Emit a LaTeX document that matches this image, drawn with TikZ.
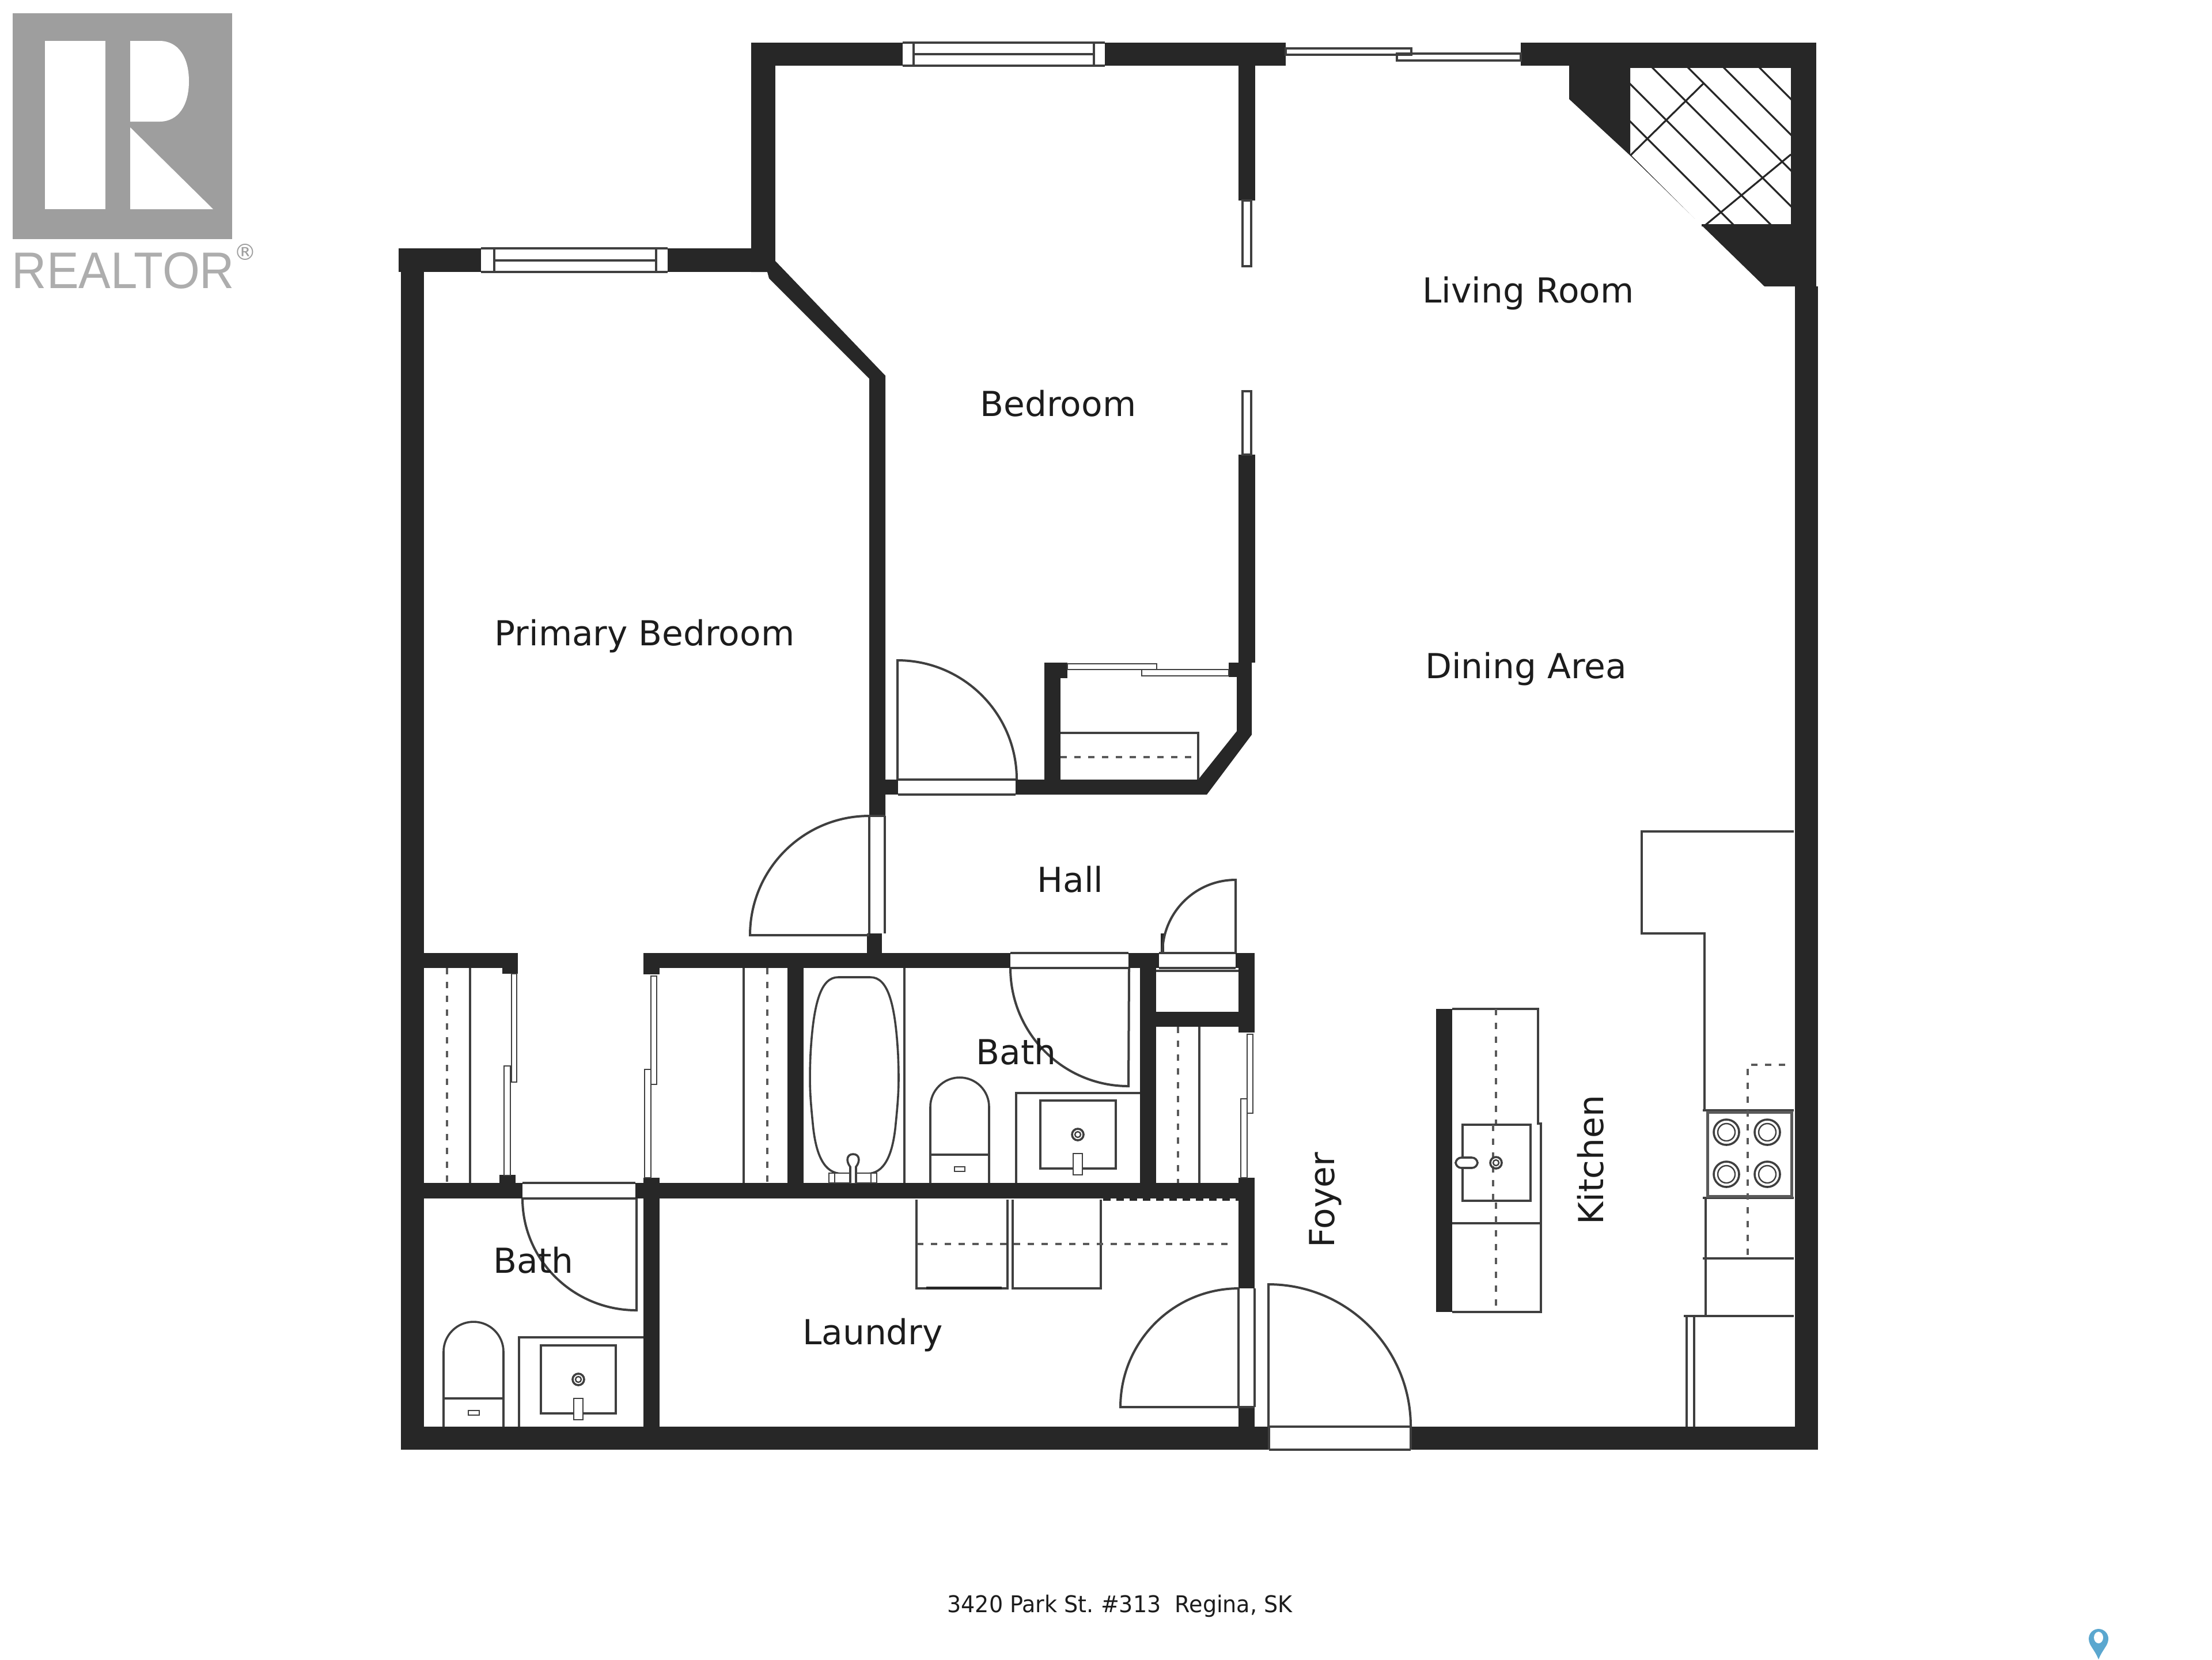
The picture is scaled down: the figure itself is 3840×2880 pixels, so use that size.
\documentclass[tikz,border=0pt]{standalone}
\usepackage{fontspec}
\setmainfont{DejaVu Sans}
\newfontfamily\logofont{Liberation Sans}
\definecolor{wallc}{HTML}{272727}
\definecolor{linec}{HTML}{3F3F3F}
\definecolor{dashc}{HTML}{5A5A5A}
\definecolor{logoc}{HTML}{9E9E9E}
\definecolor{pinc}{HTML}{5BA7CF}
\definecolor{textc}{HTML}{1C1C1C}
\tikzset{
  wall/.style={fill=wallc,draw=none},
  fine/.style={draw=linec,line width=0.36mm},
  hair/.style={draw=linec,line width=0.24mm},
  swing/.style={draw=linec,line width=0.4mm},
  dashline/.style={draw=dashc,line width=0.38mm,dash pattern=on 1.1mm off 1.3mm},
  hatch/.style={draw=wallc,line width=0.32mm},
  roomlabel/.style={inner sep=0pt,text=textc,font=\fontsize{17}{20}\selectfont},
}
\begin{document}
\begin{tikzpicture}[x=0.01cm,y=-0.01cm]
\useasboundingbox[fill=white] (0,0) rectangle (3840,2880);

% ---------- logo
\fill[logoc] (22,23) rectangle (403,415);
\fill[white] (78,71) rectangle (183,363);
\fill[white] (226,71) -- (277,71) .. controls (310,71) and (328,100) .. (328,141) .. controls (328,182) and (310,211) .. (277,211) -- (226,211) -- cycle;
\fill[white] (226,221) -- (370,363) -- (226,363) -- cycle;
\node[name=realtor,inner sep=0pt,text=logoc!85,xscale=0.934,font=\logofont\fontsize{25.4}{28}\selectfont] at (214,470) {REALTOR};
\node[name=regmark,inner sep=0pt,text=logoc,font=\fontsize{11}{13}\selectfont] at (426,437) {®};

% ---------- outer and main walls
\fill[wall] (692,431) rectangle (835,472);
\fill[wall] (1159,431) rectangle (1304,472);
\fill[wall] (696,472) rectangle (736,2516);
\fill[wall] (1304,74) rectangle (1346,472);
\fill[wall] (1304,74) rectangle (1567,114);
\fill[wall] (1918,74) rectangle (2232,114);
\fill[wall] (2640,74) rectangle (3153,114);
\fill[wall] (3109,114) rectangle (3153,497);
\fill[wall] (3116,497) rectangle (3156,2516);
\fill[wall] (2724,114) -- (2830,114) -- (2830,270) -- (2724,172) -- cycle;
\fill[wall] (2954,391) -- (3109,391) -- (3116,497) -- (3063,497) -- cycle;
\fill[wall] (696,2476) rectangle (2203,2516);
\fill[wall] (2449,2476) rectangle (3156,2516);
% chamfered bedroom wall
\fill[wall] (1346,453) -- (1537,652) -- (1537,1416) -- (1509,1416) -- (1509,657) -- (1335,483) -- (1332,472) -- (1304,472) -- (1304,450) -- cycle;
% bedroom / closet
\fill[wall] (1509,1353) rectangle (1559,1379);
\fill[wall] (1763,1353) -- (2080,1353) -- (2147,1269) -- (2147,1150) -- (2173,1150) -- (2173,1275) -- (2095,1379) -- (1763,1379) -- cycle;
\fill[wall] (1813,1150) rectangle (1841,1353);
\fill[wall] (1813,1150) rectangle (1853,1177);
\fill[wall] (2133,1150) rectangle (2150,1175);
\fill[wall] (2150,114) rectangle (2179,348);
\fill[wall] (2150,789) rectangle (2179,1150);
% hall walls
\fill[wall] (1505,1620) rectangle (1531,1655);
\fill[wall] (1117,1654) rectangle (1754,1680);
\fill[wall] (1959,1654) rectangle (2012,1680);
\fill[wall] (2145,1654) rectangle (2178,1680);
\fill[wall] (2015,1620) rectangle (2021,1654);
\fill[wall] (736,1654) rectangle (899,1680);
\fill[wall] (872,1680) rectangle (899,1690);
\fill[wall] (1117,1680) rectangle (1145,1691);
\fill[wall] (1367,1680) rectangle (1395,2053);
\fill[wall] (1979,1680) rectangle (2007,2053);
\fill[wall] (2150,1680) rectangle (2178,1792);
\fill[wall] (2007,1756) rectangle (2178,1782);
% lower wall
\fill[wall] (736,2053) rectangle (907,2080);
\fill[wall] (1103,2053) rectangle (2178,2080);
\fill[wall] (867,2039) rectangle (895,2053);
\fill[wall] (1117,2044) rectangle (1145,2053);
\fill[wall] (1117,2080) rectangle (1145,2476);
\fill[wall] (2150,2044) rectangle (2178,2236);
\fill[wall] (2150,2442) rectangle (2178,2476);

% ---------- windows and sliders
\draw[fine] (835,431) -- (1159,431) (835,472) -- (1159,472) (858,431) -- (858,472) (1139,431) -- (1139,472) (858,452) -- (1139,452);
\draw[fine] (1567,74) -- (1918,74) (1567,114) -- (1918,114) (1586,74) -- (1586,114) (1899,74) -- (1899,114) (1586,94) -- (1899,94);
\draw[fine] (2232,84) rectangle (2450,95);
\draw[fine] (2425,93) rectangle (2640,105);
\draw[fine] (2157,348) rectangle (2172,462);
\draw[fine] (2157,679) rectangle (2172,789);
\draw[hair] (1853,1152) rectangle (2008,1162);
\draw[hair] (1982,1162) rectangle (2133,1173);
\draw[hair] (888,1690) rectangle (897,1878);
\draw[hair] (875,1850) rectangle (886,2040);
\draw[hair] (1130,1694) rectangle (1140,1882);
\draw[hair] (1119,1856) rectangle (1130,2044);
\draw[hair] (2165,1795) rectangle (2175,1932);
\draw[hair] (2154,1907) rectangle (2165,2044);

% ---------- fireplace hatch
\begin{scope}
\clip (2830,116) -- (3109,116) -- (3109,391) -- (2954,391) -- (2830,270) -- cycle;
\foreach \c in {2560,2619,2684,2751,2813,2875,2937}
  \draw[hatch] (\c,0) -- (\c+600,600);
\draw[hatch] (2958,144) -- (2830,270);
\draw[hatch] (3109,268) -- (2960,391);
\end{scope}
\draw[hatch] (2830,116) -- (3109,116) (2954,391) -- (3109,391);

% ---------- door openings and leaves
\draw[fine] (1559,1353) -- (1763,1353) (1559,1379) -- (1763,1379);
\draw[swing] (1558,1353) -- (1558,1146) arc[start angle=-90,end angle=0,radius=207];
\draw[fine] (1509,1416) -- (1509,1620) (1536,1416) -- (1536,1620) (1509,1416) -- (1536,1416);
\draw[swing] (1509,1623) -- (1302,1623) arc[start angle=180,end angle=270,radius=207];
\draw[fine] (1754,1654) -- (1959,1654) (1754,1680) -- (1959,1680);
\draw[swing] (1754,1680) arc[start angle=180,end angle=90,radius=205] -- (1960,1680);
\draw[fine] (2012,1654) -- (2145,1654) (2012,1680) -- (2145,1680) (2007,1685) -- (2150,1685);
\draw[swing] (2145,1654) -- (2145,1527) arc[start angle=-90,end angle=-180,radius=127];
\draw[fine] (907,2053) -- (1103,2053) (907,2080) -- (1103,2080);
\draw[swing] (907,2080) arc[start angle=180,end angle=90,x radius=198,y radius=194] -- (1105,2080);
\draw[fine] (2150,2236) -- (2150,2442) (2178,2236) -- (2178,2442);
\draw[swing] (2178,2442) -- (1945,2442) arc[start angle=180,end angle=270,radius=206];
\draw[fine] (2203,2476) -- (2449,2476) (2203,2516) -- (2449,2516) (2203,2476) -- (2203,2516) (2449,2476) -- (2449,2516);
\draw[swing] (2202,2476) -- (2202,2229) arc[start angle=-90,end angle=0,radius=247];

% ---------- closets
\draw[fine] (816,1680) -- (816,2053);
\draw[dashline] (776,1680) -- (776,2053);
\draw[fine] (1291,1680) -- (1291,2053);
\draw[dashline] (1332,1680) -- (1332,2053);
\draw[fine] (2082,1782) -- (2082,2053);
\draw[dashline] (2045,1782) -- (2045,2053);
\draw[fine] (1841,1272) -- (2080,1272) -- (2080,1353);
\draw[dashline] (1841,1314) -- (2080,1314);

% ---------- bath 1
\draw[fine] (1570,1680) -- (1570,2053);
\draw[fine] (1455,1696) -- (1511,1696) .. controls (1541,1696) and (1554,1740) .. (1559,1830) .. controls (1561,1880) and (1560,1900) .. (1555,1950) .. controls (1550,2005) and (1535,2037) .. (1505,2037) -- (1462,2037) .. controls (1431,2037) and (1416,2005) .. (1411,1950) .. controls (1406,1900) and (1405,1880) .. (1407,1830) .. controls (1412,1740) and (1425,1696) .. (1455,1696) -- cycle;
\draw[hair,fill=white] (1439,2036) rectangle (1522,2053);
\draw[hair] (1449,2036) -- (1449,2053) (1512,2036) -- (1512,2053);
\draw[fine,fill=white] (1476,2053) -- (1476,2025) .. controls (1468,2015) and (1470,2003) .. (1481,2003) .. controls (1492,2003) and (1494,2015) .. (1486,2025) -- (1486,2053);
\draw[fine] (1615,2053) -- (1615,1921) arc[start angle=180,end angle=360,radius=51] -- (1717,2053);
\draw[fine] (1615,2004) -- (1717,2004);
\draw[hair] (1657,2025) rectangle (1675,2033);
\draw[fine] (1764,2053) -- (1764,1897) -- (1979,1897);
\draw[fine] (1806,1910) rectangle (1937,2028);
\draw[fine] (1871,1969) circle[radius=10];
\draw[hair] (1871,1969) circle[radius=5];
\draw[hair,fill=white] (1863,2002) rectangle (1879,2039);

% ---------- bath 2
\draw[fine] (770,2476) -- (770,2346) arc[start angle=180,end angle=360,radius=52] -- (874,2476);
\draw[fine] (770,2427) -- (874,2427);
\draw[hair] (813,2448) rectangle (832,2456);
\draw[fine] (901,2476) -- (901,2321) -- (1117,2321);
\draw[fine] (939,2335) rectangle (1069,2453);
\draw[fine] (1004,2394) circle[radius=10];
\draw[hair] (1004,2394) circle[radius=5];
\draw[hair,fill=white] (996,2427) rectangle (1012,2464);

% ---------- laundry
\draw[fine] (1591,2082) -- (1591,2236) -- (1749,2236) -- (1749,2082);
\draw[fine] (1758,2082) -- (1758,2236) -- (1911,2236) -- (1911,2082);
\draw[draw=wallc,line width=0.5mm] (1608,2235) -- (1739,2235);
\draw[dashline] (1592,2159) -- (2144,2159);
\draw[draw=wallc,line width=0.4mm,dash pattern=on 1.3mm off 1mm] (1915,2082) -- (2150,2082);

% ---------- kitchen
\draw[fine] (3114,1443) -- (2850,1443) -- (2850,1620) -- (2959,1620) -- (2959,1927);
\draw[fine] (2961,2079) -- (2961,2284);
\draw[fine] (2956,1927) -- (3114,1927) (2956,2079) -- (3114,2079) (2956,2184) -- (3114,2184) (2923,2284) -- (3114,2284);
\draw[draw=dashc,line width=0.5mm] (2964,1930) rectangle (3110,2076);
\draw[fine] (2928,2284) -- (2928,2476) (2941,2284) -- (2941,2476);
\draw[dashline] (3099,1848) -- (3034,1848) -- (3034,2184);
\foreach \bx in {2997,3068}
  \foreach \by in {1965,2038} {
    \draw[fine] (\bx,\by) circle[radius=22];
    \draw[hair] (\bx,\by) circle[radius=15];
  }
% island
\fill[wall] (2493,1751) rectangle (2521,2277);
\draw[fine] (2521,1751) -- (2670,1751) -- (2670,1950) -- (2675,1950) -- (2675,2277) -- (2521,2277);
\draw[fine] (2521,2123) -- (2675,2123);
\draw[dashline] (2597,1751) -- (2597,2277);
\draw[fine,fill=white] (2539,1952) rectangle (2657,2084);
\draw[dashline] (2592,1952) -- (2592,2084);
\draw[fine,fill=white,rounded corners=1mm] (2527,2009) rectangle (2565,2027);
\draw[fine] (2597,2018) circle[radius=10];
\draw[hair] (2597,2018) circle[radius=5];

% ---------- labels
\node[roomlabel,name=living] at (2653,509) {Living Room};
\node[roomlabel,name=bedroom] at (1837,700) {Bedroom};
\node[roomlabel,name=primary] at (1119,1104) {Primary Bedroom};
\node[roomlabel,name=dining] at (2649,1161) {Dining Area};
\node[roomlabel,name=hall] at (1858,1526) {Hall};
\node[roomlabel,name=bathone] at (1764,1825) {Bath};
\node[roomlabel,name=bathtwo] at (926,2187) {Bath};
\node[roomlabel,name=laundry] at (1515,2317) {Laundry};
\node[roomlabel,name=foyer,rotate=90] at (2301,2083) {Foyer};
\node[roomlabel,name=kitchen,rotate=90] at (2761,2013) {Kitchen};
\node[name=address,inner sep=0pt,text=textc,xscale=0.95,font=\fontsize{11.4}{14}\selectfont] at (1944,2787) {3420 Park St.\ \#313\ \ Regina, SK};

% ---------- pin
\fill[pinc] (3643,2880) .. controls (3636,2862) and (3626,2856) .. (3626,2844) arc[start angle=180,end angle=360,radius=17] .. controls (3660,2856) and (3650,2862) .. (3643,2880) -- cycle;
\fill[white] (3643,2842) ellipse[x radius=8,y radius=10];
\end{tikzpicture}
\end{document}
